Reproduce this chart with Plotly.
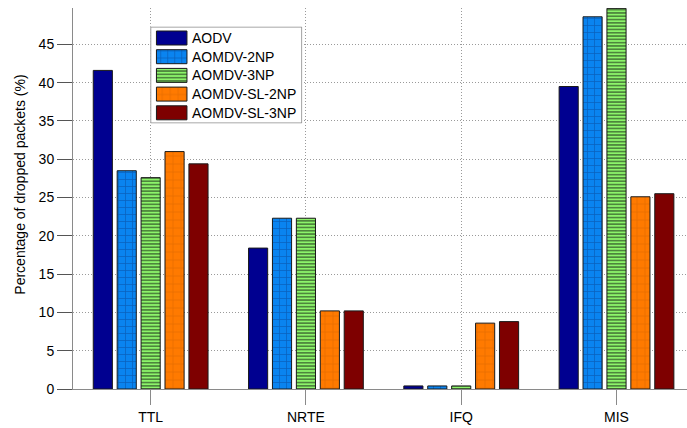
import plotly.graph_objects as go

categories = ["TTL", "NRTE", "IFQ", "MIS"]
series = ["AODV", "AOMDV-2NP", "AOMDV-3NP", "AOMDV-SL-2NP", "AOMDV-SL-3NP"]
aodv = [41.6, 18.4, 0.4, 39.5]
aomdv_2np = [28.5, 22.3, 0.4, 48.6]
aomdv_3np = [27.6, 22.3, 0.4, 49.7]
aomdv_sl_2np = [31.0, 10.2, 8.6, 25.1]
aomdv_sl_3np = [29.4, 10.2, 8.8, 25.5]
values = [aodv, aomdv_2np, aomdv_3np, aomdv_sl_2np, aomdv_sl_3np]
y_ticks = [0, 5, 10, 15, 20, 25, 30, 35, 40, 45]
y_title = "Percentage of dropped packets (%)"

colors = ["#000090", "#0A84F0", "#8CF46A", "#FF7A00", "#7E0000"]
patterns = [
    dict(shape=""),
    dict(shape="+", fgcolor="#0B3F86", size=7, solidity=0.2),
    dict(shape="-", fgcolor="#101810", size=3.3, solidity=0.5),
    dict(shape="+", fgcolor="#C05A00", size=8, solidity=0.14),
    dict(shape=""),
]

FONT = "Liberation Sans, Arial, sans-serif"
xpos = list(range(1, len(categories) + 1))

fig = go.Figure()
for name, vals, col, pat in zip(series, values, colors, patterns):
    fig.add_trace(go.Bar(
        x=xpos, y=vals, name=name, showlegend=False,
        marker=dict(color=col, line=dict(color="#1a1a1a", width=1), pattern=pat),
        xaxis="x", yaxis="y",
    ))

# legend drawn on an overlay subplot (pixel-like units)
BOX_W, BOX_H = 151, 96
fig.add_trace(go.Bar(
    y=[BOX_H / 2], x=[BOX_W], base=[0], orientation="h", width=[BOX_H],
    offset=-BOX_H / 2, marker=dict(color="white", line=dict(color="#8a8a8a", width=1)),
    showlegend=False, hoverinfo="skip", xaxis="x3", yaxis="y3",
))
row0, row_step = 11, 18.7
for i, (name, col, pat) in enumerate(zip(series, colors, patterns)):
    fig.add_trace(go.Bar(
        y=[row0 + i * row_step], x=[30.5], base=[5.7], orientation="h",
        width=[14], offset=-7,
        marker=dict(color=col, line=dict(color="#1a1a1a", width=1), pattern=pat),
        showlegend=False, hoverinfo="skip", xaxis="x3", yaxis="y3",
    ))

L, T, W, H = 73.3, 8, 687, 428
B = 389
pw, ph = W - L, B - T

def px_x(p):
    return (p - L) / pw

def px_y(p):
    return (B - p) / ph

box_x0, box_y0 = 151, 27
for i, name in enumerate(series):
    fig.add_annotation(
        x=px_x(box_x0 + 39), y=px_y(box_y0 + row0 + i * row_step),
        xref="paper", yref="paper", text=name, showarrow=False,
        xanchor="left", yanchor="middle",
        font=dict(family=FONT, size=14, color="black"),
    )

fig.add_annotation(
    x=px_x(20), y=px_y(185), xref="paper", yref="paper",
    text=y_title, textangle=-90, showarrow=False,
    xanchor="center", yanchor="middle",
    font=dict(family=FONT, size=14, color="black"),
)

fig.update_layout(
    width=W, height=H,
    margin=dict(l=L, r=0, t=T, b=H - B),
    paper_bgcolor="white", plot_bgcolor="white",
    barmode="group", bargap=0.23, bargroupgap=0.2,
    font=dict(family=FONT, size=14, color="black"),
    xaxis=dict(
        range=[0.5, 4.454], tickvals=xpos, ticktext=categories,
        showgrid=True, gridcolor="#9a9a9a", griddash="1px,2px", gridwidth=1,
        ticks="outside", ticklen=15, tickcolor="#8a8a8a",
        showline=True, linecolor="#8a8a8a", linewidth=1,
        zeroline=False, tickfont=dict(size=14),
    ),
    yaxis=dict(
        range=[0, 49.75], tickvals=y_ticks,
        showgrid=True, gridcolor="#9a9a9a", griddash="1px,2px", gridwidth=1,
        ticks="outside", ticklen=15, tickcolor="#555555",
        showline=True, linecolor="#8a8a8a", linewidth=1,
        zeroline=False, tickfont=dict(size=14),
    ),
    xaxis3=dict(
        domain=[px_x(box_x0 - 0.5), px_x(box_x0 + BOX_W + 0.5)], anchor="y3",
        range=[-0.5, BOX_W + 0.5], visible=False, fixedrange=True,
    ),
    yaxis3=dict(
        domain=[px_y(box_y0 + BOX_H + 0.5), px_y(box_y0 - 0.5)], anchor="x3",
        range=[BOX_H + 0.5, -0.5], visible=False, fixedrange=True,
    ),
)

fig.write_html("out.html")
